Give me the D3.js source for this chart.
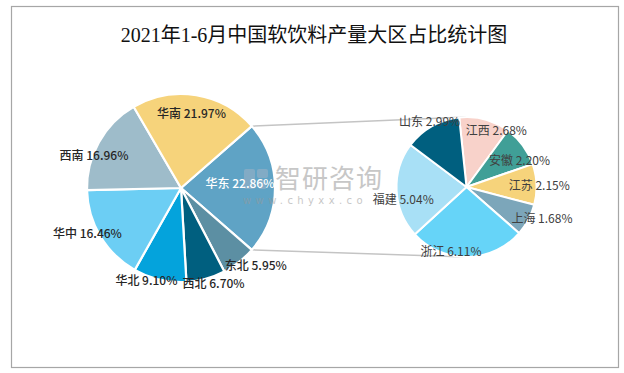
<!DOCTYPE html>
<html><head><meta charset="utf-8">
<script src="https://cdn.jsdelivr.net/npm/d3@7/dist/d3.min.js"></script>
<style>
html,body{margin:0;padding:0;background:#fff;}
svg{display:block;}
</style>
</head><body>
<svg id="chart" width="624" height="373"></svg>
<script>
// ---------- data ----------
const title = "2021年1-6月中国软饮料产量大区占比统计图";
const regions = ["华东","东北","西北","华北","华中","西南","华南"];
const regionValues = [22.86, 5.95, 6.70, 9.10, 16.46, 16.96, 21.97];
const provinces = ["江西","安徽","江苏","上海","浙江","福建","山东"];
const provinceValues = [2.68, 2.20, 2.15, 1.68, 6.11, 5.04, 2.99];

// ---------- styles / placement ----------
const regionColors = ["#5FA3C5","#5C8FA3","#005F7F","#04A3DC","#6CCEF4","#9EBCCA","#F6D37B"];
const provinceColors = ["#F8D2CA","#409F97","#F6D37B","#7CA6BA","#66D4F8","#A8E0F6","#005F7F"];
// label placement: [angle (deg, clockwise from top), radius factor]
const regionLabelPos = [[85,0.63],[135.7,1.14],[161,1.065],[200.6,1.045],[244.8,1.10],[290.8,0.99],[7.9,0.815]];
const provinceLabelPos = [[27.3,0.93],[63,0.85],[88.4,1.04],[112.3,1.165],[193.8,0.93],[259.3,0.92],[331.1,1.09]];

const svg = d3.select("#chart");

// frame
svg.append("rect").attr("x",11.5).attr("y",6.5).attr("width",607).attr("height",361)
  .attr("fill","#fff").attr("stroke","#a6a6a6").attr("stroke-width",1.2);

// title
svg.append("text").attr("x",314).attr("y",42).attr("text-anchor","middle")
  .attr("font-family","'Liberation Serif','Noto Sans CJK SC',serif")
  .attr("font-size",20).attr("fill","#111").text(title);

const toRad = d => d*Math.PI/180;

// ---------- left pie ----------
const c1 = {x:181, y:188}, R1 = 94;
const total1 = d3.sum(regionValues);
const split = regionValues[0]/total1; // fraction of 华东
const start1 = Math.PI/2 - split*Math.PI;
const pie1 = d3.pie().sort(null).value(d=>d.v).startAngle(start1).endAngle(start1+2*Math.PI);
const data1 = regions.map((n,i)=>({n, v:regionValues[i], i}));
const arcs1 = pie1(data1);
const arc1 = d3.arc().innerRadius(0).outerRadius(R1);

// ---------- right pie ----------
const c2 = {x:466.5, y:187}, R2 = 70;
const start2 = toRad(-6);
const pie2 = d3.pie().sort(null).value(d=>d.v).startAngle(start2).endAngle(start2+2*Math.PI);
const data2 = provinces.map((n,i)=>({n, v:provinceValues[i], i}));
const arcs2 = pie2(data2);
const arc2 = d3.arc().innerRadius(0).outerRadius(R2);

// connector lines
const a0 = arcs1[0];
const pt = (c,r,a)=>[c.x + r*Math.sin(a), c.y - r*Math.cos(a)];
const pA = pt(c1,R1,a0.startAngle), pB = pt(c1,R1,a0.endAngle);
svg.append("line").attr("x1",pA[0]).attr("y1",pA[1]).attr("x2",c2.x).attr("y2",c2.y-R2)
  .attr("stroke","#c4c4c4").attr("stroke-width",1.5);
svg.append("line").attr("x1",pB[0]).attr("y1",pB[1]).attr("x2",c2.x).attr("y2",c2.y+R2)
  .attr("stroke","#c4c4c4").attr("stroke-width",1.5);

const g1 = svg.append("g").attr("transform",`translate(${c1.x},${c1.y})`);
g1.selectAll("path").data(arcs1).join("path")
  .attr("d",arc1).attr("fill",d=>regionColors[d.data.i])
  .attr("stroke","#fff").attr("stroke-width",2.2).attr("stroke-linejoin","round");

const g2 = svg.append("g").attr("transform",`translate(${c2.x},${c2.y})`);
g2.selectAll("path").data(arcs2).join("path")
  .attr("d",arc2).attr("fill",d=>provinceColors[d.data.i])
  .attr("stroke","#fff").attr("stroke-width",2).attr("stroke-linejoin","round");

// watermark
const wm = svg.append("g").attr("opacity",0.55);
wm.append("rect").attr("x",244).attr("y",169).attr("width",11).attr("height",20).attr("rx",2).attr("fill","#9fb3c6");
wm.append("rect").attr("x",257).attr("y",169).attr("width",11).attr("height",9).attr("rx",2).attr("fill","#9fb3c6");
wm.append("rect").attr("x",259).attr("y",180).attr("width",7).attr("height",9).attr("rx",1).attr("fill","#9fb3c6");
wm.append("text").attr("x",275).attr("y",188).attr("font-family","'Noto Sans CJK SC',sans-serif")
  .attr("font-size",26).attr("fill","#9a9a9a").attr("letter-spacing",1).text("智研咨询");
wm.append("text").attr("x",243).attr("y",204).attr("font-family","'DejaVu Sans',sans-serif")
  .attr("font-size",10).attr("fill","#9a9a9a").attr("letter-spacing",4.4).text("www.chyxx.co");

// labels
const fmt = v => v.toFixed(2)+"%";
const lab = (c, R, name, val, pos, color, weight) => {
  const a = toRad(pos[0]), r = R*pos[1];
  svg.append("text")
    .attr("x", c.x + r*Math.sin(a)).attr("y", c.y - r*Math.cos(a))
    .attr("text-anchor","middle").attr("dominant-baseline","central")
    .attr("font-family","'Noto Sans CJK SC','Noto Sans',sans-serif")
    .attr("font-size",12).attr("font-weight",weight).attr("fill",color)
    .text(name+" "+fmt(val));
};
regions.forEach((n,i)=>lab(c1,R1,n,regionValues[i],regionLabelPos[i], i===0?"#ffffff":"#262626", 500));
provinces.forEach((n,i)=>lab(c2,R2,n,provinceValues[i],provinceLabelPos[i],"#404040", 400));
</script>
</body></html>
